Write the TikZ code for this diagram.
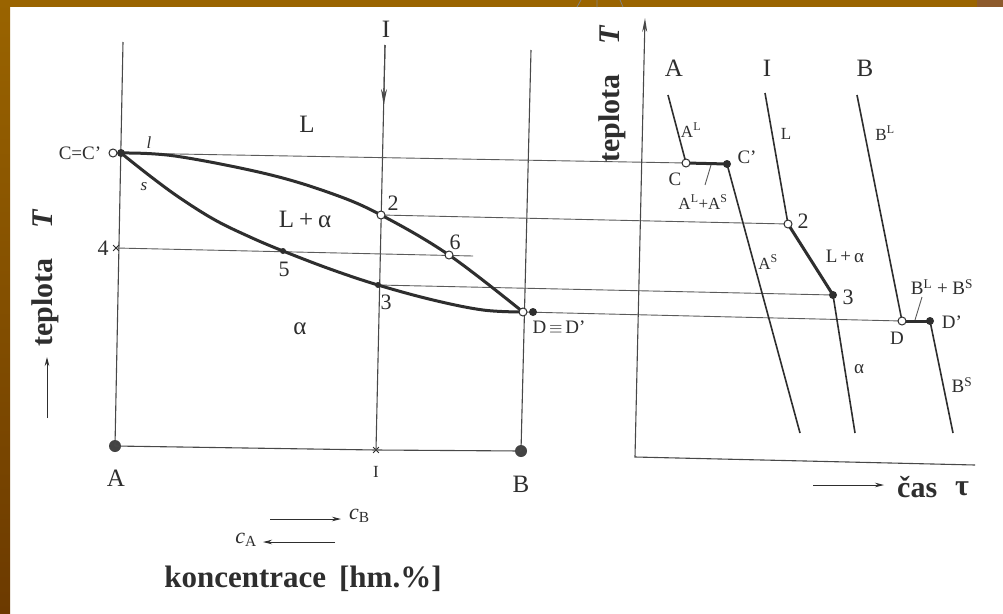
\documentclass[tikz,border=0pt]{standalone}
\usepackage{fontspec}
\setmainfont{Liberation Serif}
\usetikzlibrary{arrows.meta,calc,shapes.misc}
\definecolor{framegold}{HTML}{9A6400}
\definecolor{framedark}{HTML}{6C3A00}
\definecolor{framecorner}{HTML}{8D5A2C}
\definecolor{ink}{HTML}{2E2E2E}
\definecolor{thinink}{HTML}{5A5A5A}
\begin{document}
\begin{tikzpicture}[x=1pt,y=-1pt,
  tie/.style={draw=thinink, line width=0.9pt},
  axisline/.style={draw=thinink!80!black, line width=1.1pt},
  curve/.style={draw=ink, line width=1.6pt},
  heavy/.style={draw=ink, line width=3pt},
  openpt/.style={circle, draw=ink, fill=white, line width=1pt, inner sep=0pt, minimum size=8pt},
  fullpt/.style={circle, fill=ink, inner sep=0pt, minimum size=8pt},
  bigpt/.style={circle, fill=ink!90, inner sep=0pt, minimum size=12pt},
  xmark/.style={cross out, draw=ink, line width=0.8pt, inner sep=0pt, minimum size=5pt},
  lbl/.style={text=ink, inner sep=0pt, font=\fontsize{22}{24}\selectfont},
  biglbl/.style={text=ink, inner sep=0pt, font=\fontsize{25}{27}\selectfont},
  slbl/.style={text=ink, inner sep=0pt, font=\fontsize{17}{19}\selectfont},
  mlbl/.style={text=ink, inner sep=0pt, font=\fontsize{19}{21}\selectfont},
  blbl/.style={text=ink, inner sep=0pt, font=\fontsize{30}{32}\selectfont\bfseries},
  tipline/.style={draw=ink, line width=0.9pt, -{Stealth[length=9pt,width=4.5pt]}},
]
% background and frame
\fill[white] (0,0) rectangle (1003,613);
\useasboundingbox (0,0) rectangle (1003,613);
\fill[framegold] (0,0) rectangle (1003,7);
\fill[framecorner] (977,0) rectangle (1003,7);
\shade[top color=framegold, bottom color=framedark] (0,0) rectangle (10,613);
\draw[ink!60, line width=0.8pt] (577,7) -- (581,0) (597,7) -- (597,0) (623,7) -- (620,0);

% ---------- left diagram ----------
\coordinate (Atop) at (123,42);
\node[bigpt] (A) at (115,446) {};
\coordinate (Btop) at (531,50);
\node[bigpt] (B) at (521,451) {};
\coordinate (Itop) at (385,45);
\node[xmark] (Ib) at (376,450) {};
\draw[axisline] (Atop) -- (A.center);
\draw[axisline] (Btop) -- (B.center);
\draw[axisline] (A.center) -- (Ib.center) -- (B.center);
\draw[axisline] (Itop) -- (Ib.center);
\draw[axisline, -{Stealth[length=16pt,width=6pt]}] (Itop) -- ($(Itop)!0.148!(Ib.center)$);

\coordinate (C) at (121,153);
\coordinate (P2) at (381,215);
\coordinate (P3) at (378,285);
\coordinate (P4) at (116,248);
\coordinate (P5) at (283,251);
\coordinate (P6) at (449,255);
\coordinate (D) at (523,312);
\coordinate (T4) at (473,256);

% right-diagram key points
\coordinate (RC) at (686,163);
\coordinate (RCp) at (727,164);
\coordinate (R2) at (788,224);
\coordinate (R3) at (833,295);
\coordinate (RD) at (902,321);
\coordinate (RDp) at (930,321);

% tie lines
\draw[tie] (C) -- (RC);
\draw[tie] (P2) -- (R2);
\draw[tie] (P4) -- (T4);
\draw[tie] (P3) -- (R3);
\draw[tie] (D) -- (RD);

% liquidus and solidus
\draw[heavy] plot[smooth, tension=0.6] coordinates {(C) (175,156) (267,174) (333,194) (P2) (P6) (D)};
\draw[heavy] plot[smooth, tension=0.6] coordinates {(C) (150,176) (180,198) (215,220) (250,237) (P5) (330,269) (P3) (433,300) (483,310) (D)};

% markers
\node[openpt] (Co) at (113,153) {};
\node[fullpt] (Cf) at (C) {};
\node[openpt] (p2) at (P2) {};
\node[fullpt, minimum size=6pt] (p3) at (P3) {};
\node[xmark] (p4) at (P4) {};
\node[fullpt, minimum size=6pt] (p5) at (P5) {};
\node[openpt] (p6) at (P6) {};
\node[openpt] (Do) at (D) {};
\node[fullpt] (Df) at (533,312) {};

% labels left
\node[mlbl] (lCC) at (80,153) {C=C\textquoteright};
\node[slbl] (ll) at (149,143) {\itshape l};
\node[slbl] (ls) at (144,187) {\itshape s};
\node[biglbl] (lL) at (307,124) {L};
\node[biglbl] (lLa) at (305,219) {L\hspace{5pt}+\hspace{5pt}α};
\node[biglbl] (la) at (300,329) {α};
\node[lbl] (l2) at (393,203) {2};
\node[lbl] (l6) at (455,242) {6};
\node[lbl] (l5) at (284,269) {5};
\node[lbl] (l3) at (386,302) {3};
\node[lbl] (l4) at (103,248) {4};
\node[mlbl] (lDD) at (559,327) {D$\,\equiv\,$D\textquoteright};
\node[biglbl] (lA) at (116,478) {A};
\node[slbl] (lIb) at (376,472) {I};
\node[biglbl] (lB) at (521,484) {B};
\node[biglbl] (lIt) at (386,29) {I};

% left axis label
\coordinate (yarr0) at (47,418);
\coordinate (yarr1) at (47,357);
\draw[tipline] (yarr0) -- (yarr1);
\node[blbl, rotate=90] (ylab) at (45,278) {teplota\quad\textit{T}};

% bottom concentration labels
\coordinate (cb0) at (270,519);
\coordinate (cb1) at (341,519);
\draw[tipline] (cb0) -- (cb1);
\node[lbl, anchor=west] (lcB) at (349,516) {\textit{c}\textsubscript{B}};
\coordinate (ca0) at (335,542);
\coordinate (ca1) at (263,542);
\draw[tipline] (ca0) -- (ca1);
\node[lbl, anchor=east] (lcA) at (257,540) {\textit{c}\textsubscript{A}};
\node[blbl, font=\fontsize{31}{33}\selectfont\bfseries] (lkon) at (303,579) {koncentrace\, [hm.\%]};

% ---------- right diagram ----------
\coordinate (RAtop) at (645,18);
\coordinate (RO) at (635,457);
\coordinate (RXend) at (975,465);
\draw[axisline, {Stealth[length=14pt,width=5pt]}-] (RAtop) -- (RO) -- (RXend);

\coordinate (Atp) at (668,95);
\coordinate (Abt) at (800,433);
\coordinate (Itp) at (765,93);
\coordinate (Ibt) at (855,433);
\coordinate (Btp) at (857,95);
\coordinate (Bbt) at (953,433);
\draw[curve] (Atp) -- (RC);
\draw[heavy] (RC) -- (RCp);
\draw[curve] (RCp) -- (Abt);
\draw[curve] (Itp) -- (R2);
\draw[heavy] (R2) -- (R3);
\draw[curve] (R3) -- (Ibt);
\draw[curve] (Btp) -- (RD);
\draw[heavy] (RD) -- (RDp);
\draw[curve] (RDp) -- (Bbt);

\node[openpt] (rc) at (RC) {};
\node[fullpt] (rcp) at (RCp) {};
\node[openpt] (r2) at (R2) {};
\node[fullpt] (r3) at (R3) {};
\node[openpt] (rd) at (RD) {};
\node[fullpt] (rdp) at (RDp) {};

% pointers
\coordinate (barA) at (711,165);
\coordinate (ptA) at (705,185);
\draw[tie] (barA) -- (ptA);
\coordinate (barB) at (915,320);
\coordinate (ptB) at (922,297);
\draw[tie] (barB) -- (ptB);

% labels right
\node[blbl, rotate=90] (tlab) at (612,94) {teplota\quad\textit{T}};
\node[biglbl] (cA) at (674,68) {A};
\node[biglbl] (cI) at (767,68) {I};
\node[biglbl] (cB) at (865,68) {B};
\node[slbl] (lAL) at (691,130) {A\textsuperscript{L}};
\node[mlbl] (lC) at (675,179) {C};
\node[mlbl] (lCp) at (747,157) {C\textquoteright};
\node[slbl] (lALS) at (703,202) {A\textsuperscript{L}+A\textsuperscript{S}};
\node[slbl] (lAS) at (768,262) {A\textsuperscript{S}};
\node[slbl] (lLr) at (786,134) {L};
\node[lbl] (lr2) at (803,221) {2};
\node[mlbl] (lLar) at (845,256) {L\hspace{3pt}+\hspace{3pt}α};
\node[lbl] (lr3) at (848,297) {3};
\node[mlbl] (lar) at (859,369) {α};
\node[slbl] (lBL) at (885,133) {B\textsuperscript{L}};
\node[mlbl] (lD) at (897,338) {D};
\node[mlbl] (lDp) at (952,322) {D\textquoteright};
\node[mlbl] (lBLS) at (942,287) {B\textsuperscript{L} + B\textsuperscript{S}};
\node[mlbl] (lBS) at (962,385) {B\textsuperscript{S}};

% time axis label
\coordinate (tx0) at (813,485);
\coordinate (tx1) at (884,485);
\draw[tipline] (tx0) -- (tx1);
\node[blbl, anchor=west] (lcas) at (897,487) {čas};
\node[blbl] (ltau) at (962,489) {τ};
\end{tikzpicture}
\end{document}
